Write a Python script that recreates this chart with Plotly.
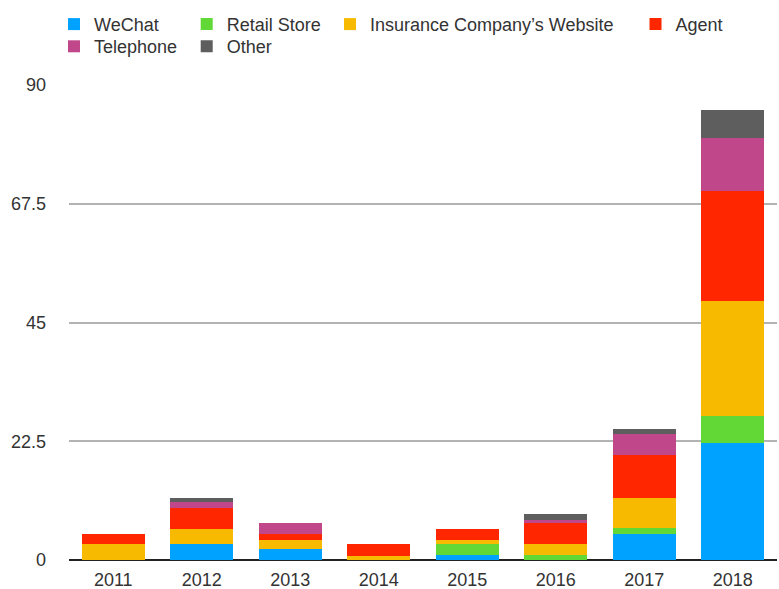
import plotly.graph_objects as go

# 연도별 채널 값
years = ['2011', '2012', '2013', '2014', '2015', '2016', '2017', '2018']
wechat = [0, 3.0, 2.0, 0, 0.9, 0, 4.9, 22.2]
retail_store = [0, 0, 0, 0, 2.1, 0.9, 1.1, 5.0]
website = [3.0, 2.9, 1.8, 0.8, 0.7, 2.1, 5.8, 21.8]
agent = [1.9, 4.0, 1.1, 2.3, 2.2, 4.0, 8.1, 20.9]
telephone = [0, 1.1, 2.1, 0, 0, 0.6, 4.0, 10.1]
other = [0, 0.8, 0, 0, 0, 1.2, 1.0, 5.2]

y_ticks = [0, 22.5, 45, 67.5, 90]
y_tick_text = ['0', '22.5', '45', '67.5', '90']

FONT = 'Liberation Sans, Arial, Helvetica, sans-serif'
TEXT_COLOR = '#333333'

# (이름, 값, 색)
series = [
    ('WeChat', wechat, '#00A2FF'),
    ('Retail Store', retail_store, '#61D836'),
    ('Insurance Company\u2019s Website', website, '#F8BA00'),
    ('Agent', agent, '#FF2600'),
    ('Telephone', telephone, '#C0478A'),
    ('Other', other, '#5E5E5E'),
]

# 범례 위치 (왼쪽 px, 위쪽 px) - 열 정렬을 위해 항목마다 따로 둔다
legend_pos = [(54, 5.9), (186.7, 5.9), (330, 5.9), (635.5, 5.9),
              (54, 28.1), (186.7, 28.1)]

fig = go.Figure()

layout_legends = {}
for i, (name, values, color) in enumerate(series):
    key = 'legend' if i == 0 else f'legend{i + 1}'
    fig.add_trace(go.Bar(
        x=years,
        y=values,
        name=name,
        marker_color=color,
        marker_line_width=0,
        showlegend=True,
        legend=key
    ))
    left, top = legend_pos[i]
    layout_legends[key] = dict(
        x=left / 779, xref='container', xanchor='left',
        y=1 - top / 589, yref='container', yanchor='top',
        bgcolor='rgba(0,0,0,0)',
        font=dict(family=FONT, size=18, color=TEXT_COLOR)
    )

fig.update_layout(
    barmode='stack',
    bargap=0.287,
    width=779,
    height=589,
    showlegend=True,
    margin=dict(l=69, r=2, t=85, b=29, autoexpand=False),
    plot_bgcolor='white',
    paper_bgcolor='white',
    font=dict(family=FONT, size=18, color=TEXT_COLOR),
    xaxis=dict(
        showgrid=False,
        showline=False,
        ticks='',
        ticklabelstandoff=7,
        tickfont=dict(family=FONT, size=18, color=TEXT_COLOR)
    ),
    yaxis=dict(
        range=[0, 90],
        tickvals=y_ticks,
        ticktext=y_tick_text,
        showgrid=True,
        gridcolor='#B3B3B3',
        gridwidth=2,
        zeroline=True,
        zerolinecolor='#222222',
        zerolinewidth=2,
        showline=False,
        ticks='',
        ticklabelstandoff=22,
        tickfont=dict(family=FONT, size=18, color=TEXT_COLOR)
    ),
    **layout_legends
)

# 페이지 기본 여백 제거
fig.write_html("out.html", config={'displayModeBar': False},
               post_script="document.body.style.margin = '0';")
